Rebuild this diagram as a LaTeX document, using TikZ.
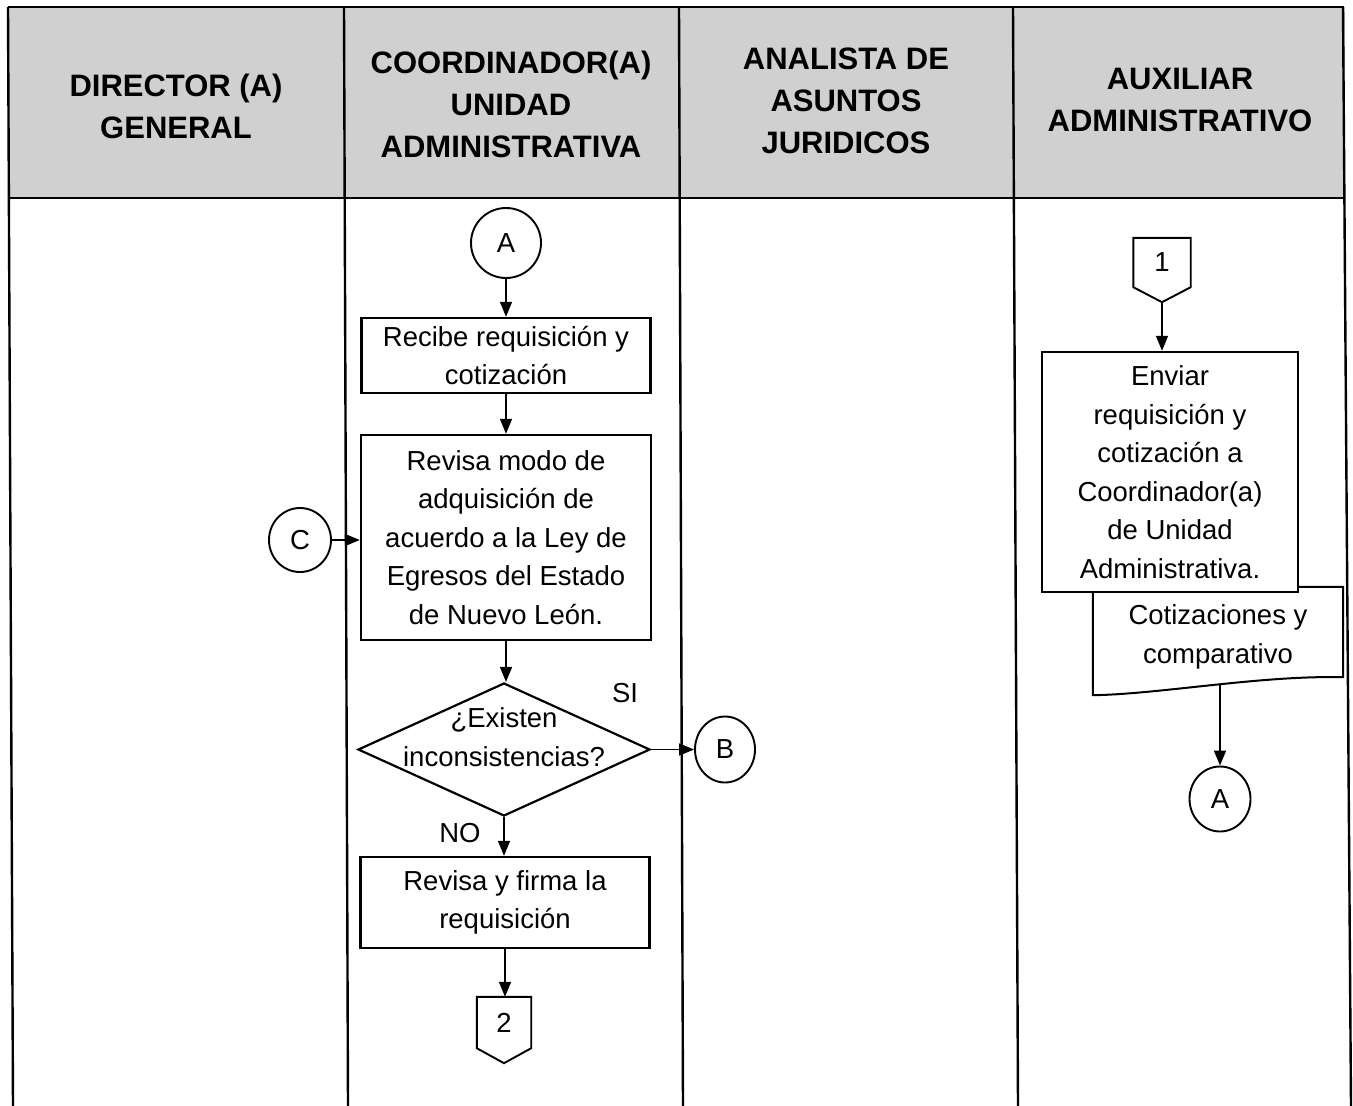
\documentclass[tikz,border=0pt]{standalone}
\usepackage{fontspec}
\setmainfont{Liberation Sans}
\usetikzlibrary{arrows.meta,shapes.geometric,calc}
\definecolor{hdrgray}{RGB}{208,208,208}
\tikzset{
  bodyfont/.style={font=\fontsize{27.5}{38.5}\selectfont},
  hdr/.style={align=center,font=\fontsize{31}{42}\selectfont\bfseries},
  proc/.style={draw,line width=2.4pt,fill=white,inner sep=0pt,align=center,bodyfont},
  conn/.style={draw,ellipse,line width=1.9pt,fill=white,inner sep=0pt,bodyfont},
  offpage/.style={inner sep=0pt,bodyfont},
  tbl/.style={line width=2.4pt},
  arr/.style={line width=1.6pt,-{Triangle[length=15pt,width=12pt]}},
}
\newcommand\offpagepath[1]{\draw[line width=1.9pt] (#1.north west) -- (#1.north east) -- (#1.south east) -- ([yshift=-15pt]#1.south) -- (#1.south west) -- cycle;}
\begin{document}
\begin{tikzpicture}[x=1pt,y=-1pt]
\useasboundingbox (0,0) rectangle (1353,1106);
% header
\fill[hdrgray] (8,7) rectangle (1345,198);
\draw[tbl] (8,7) -- (1344,7);
\draw[tbl] (9,198) -- (1344,198);
\draw[tbl] (8,7) -- (13,1106);
\draw[tbl] (344,7) -- (348,1106);
\draw[tbl] (679,7) -- (683,1106);
\draw[tbl] (1013,7) -- (1018,1106);
\draw[tbl] (1343,7) -- (1351,1106);
\node[hdr] (h1) at (176,106) {DIRECTOR (A)\\GENERAL};
\node[hdr] (h2) at (511,104) {COORDINADOR(A)\\UNIDAD\\ADMINISTRATIVA};
\node[hdr] (h3) at (846,101) {ANALISTA DE\\ASUNTOS\\JURIDICOS};
\node[hdr] (h4) at (1180,100) {AUXILIAR\\ADMINISTRATIVO};

% coordinator lane
\node[conn,minimum width=70pt,minimum height=70pt] (A1) at (506,243) {A};
\node[proc,minimum width=289pt,minimum height=75pt] (b1) at (506,355.5) {Recibe requisición y\\cotización};
\node[proc,minimum width=290pt,minimum height=205pt] (b2) at (506,537.5) {Revisa modo de\\adquisición de\\acuerdo a la Ley de\\Egresos del Estado\\de Nuevo León.};
\node[conn,minimum width=62pt,minimum height=64pt] (C) at (300,540) {C};
\node[diamond,draw,line width=2.2pt,minimum width=292pt,minimum height=133pt,inner sep=0pt] (dec) at (504,749.5) {};
\node[bodyfont,align=center] (dect) at (504,737) {¿Existen\\inconsistencias?};
\node[bodyfont] (si) at (625,693) {SI};
\node[bodyfont] (no) at (460,833) {NO};
\node[conn,minimum width=60pt,minimum height=66pt] (B) at (725,749.5) {B};
\node[proc,minimum width=289pt,minimum height=91pt] (b3) at (505,902.5) {Revisa y firma la\\requisición};
\node[offpage,minimum width=54pt,minimum height=51pt] (P2) at (504,1022.5) {2};
\offpagepath{P2}

% auxiliar lane
\node[offpage,minimum width=57pt,minimum height=49pt] (P1) at (1162,262.5) {1};
\offpagepath{P1}
\coordinate (P1tip) at ([yshift=-15pt]P1.south);
\node[inner sep=0pt,minimum width=250pt,minimum height=90pt] (doc) at (1218,632) {};
\draw[line width=2pt] (doc.north west) -- (doc.north east) -- (doc.south east)
  .. controls ([xshift=-83pt,yshift=2pt]doc.south east) and ([xshift=67pt,yshift=-17pt]doc.south west) .. coordinate[pos=0.48] (docb) ([yshift=-18pt]doc.south west) -- cycle;
\node[align=center,bodyfont] (doct) at (1218,637) {Cotizaciones y\\comparativo};
\node[proc,minimum width=256pt,minimum height=240pt] (b4) at (1170,472) {Enviar\\requisición y\\cotización a\\Coordinador(a)\\de Unidad\\Administrativa.};
\node[conn,minimum width=61pt,minimum height=65pt] (A2) at (1220,799) {A};

% connectors
\draw[arr] (A1.south) -- (A1.south |- b1.north);
\draw[arr] (b1.south) -- (b2.north);
\draw[arr] (C.east) -- (C.east -| b2.west);
\draw[arr] (b2.south) -- (b2.south |- dec.north);
\draw[arr] (dec.east) -- (dec.east -| B.west);
\draw[arr] (dec.south) -- (dec.south |- b3.north);
\draw[arr] (b3.south) -- (b3.south |- P2.north);
\draw[arr] (P1tip) -- (P1tip |- b4.north);
\draw[arr] (A2.north |- docb) -- (A2.north);
\end{tikzpicture}
\end{document}
